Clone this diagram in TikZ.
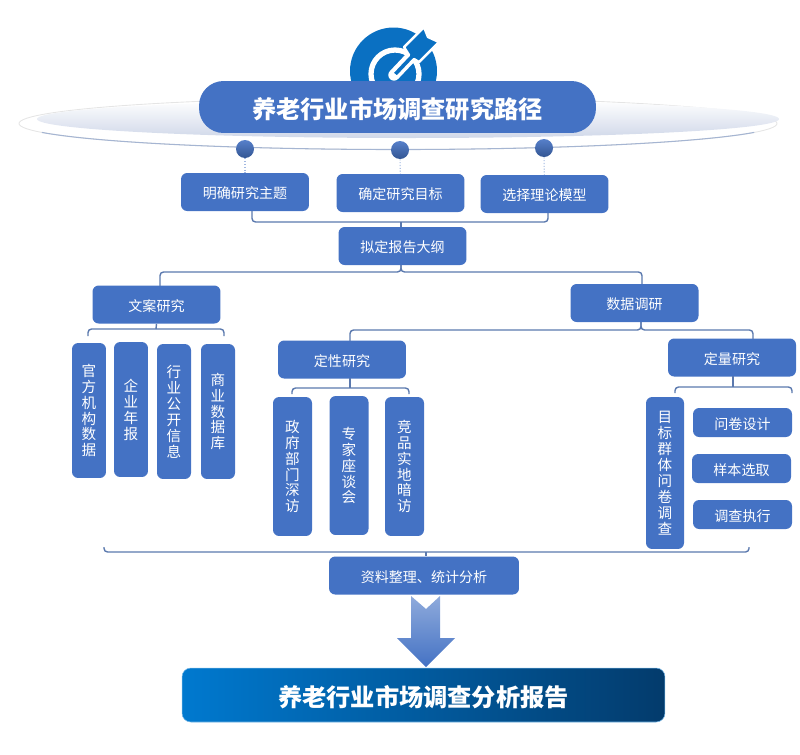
\documentclass[tikz,border=0pt]{standalone}
\usepackage{fontspec}
\setmainfont{Noto Sans CJK SC}
\usetikzlibrary{positioning, arrows.meta, calc}
\definecolor{boxblue}{HTML}{4472C4}
\definecolor{linkblue}{HTML}{5B79AE}
\definecolor{targetblue}{HTML}{0A70C2}
\definecolor{haloblue}{HTML}{D0D8E9}
\definecolor{reportleft}{HTML}{0079CF}
\definecolor{reportright}{HTML}{033B6C}

\begin{document}
\begin{tikzpicture}[
    x=0.02cm, y=-0.02cm,
    hbox/.style={
        rectangle,
        fill=boxblue,
        minimum width=2.56cm,
        minimum height=0.76cm,
        inner sep=0pt,
        font=\fontsize{8}{10}\selectfont,
        text=white,
        text height=8.6pt,
        text depth=1pt,
        rounded corners=3.5pt,
        align=center
    },
    vbox/.style={
        rectangle,
        fill=boxblue,
        inner sep=0pt,
        font=\fontsize{8.3}{9.07}\selectfont,
        text=white,
        rounded corners=3.5pt,
        align=center
    },
    banner/.style={
        rectangle,
        inner sep=0pt,
        text=white,
        font=\fontsize{13.8}{16}\selectfont\bfseries,
        text height=15.6pt,
        text depth=2pt
    },
    link/.style={
        line width=0.8pt,
        color=linkblue,
        rounded corners=2pt
    },
    dotline/.style={
        line width=0.6pt,
        densely dotted,
        color=boxblue!50
    },
    ball/.style={
        circle,
        minimum size=0.36cm,
        inner sep=0pt,
        top color=boxblue!90,
        bottom color=boxblue!75!black
    }
]
\useasboundingbox (0,0) rectangle (800,754);

% Target icon behind the title
\fill[targetblue] (393.5,71) circle [radius=43.5];
\draw[white, line width=3pt] (395,74) circle [radius=24];
\draw[white, line width=6.5pt, line cap=round] (394,75) -- (412,56);
\filldraw[targetblue, draw=white, line width=1.4pt, line join=round]
    (392,73) -- (409,55) -- (404,47) -- (424,27) -- (428,37) -- (439,42) -- (419,62) -- (414,59) -- (397,77) -- cycle;

% Halo
\draw[line width=0.5pt, color=black!10] (398,123.5) ellipse [x radius=379, y radius=26];
\draw[line width=0.6pt, color=linkblue!55] (41.9,132.4) arc [start angle=160, end angle=20, x radius=379, y radius=26];
\shade[top color=white, bottom color=haloblue] (408,119) ellipse [x radius=371, y radius=19];

% Title
\node[banner, fill=boxblue, minimum width=7.94cm, minimum height=1.04cm, rounded corners=14pt] (title) at (397.5,107) {养老行业市场调查研究路径};

% Balls and first row
\node[hbox] (topic) at (245,192) {明确研究主题};
\node[hbox] (goal)  at (400.5,193) {确定研究目标};
\node[hbox] (model) at (544.5,194) {选择理论模型};
\node[ball] (balla) at (245,149) {};
\node[ball] (ballb) at (400,150) {};
\node[ball] (ballc) at (544,148) {};
\draw[dotline] (balla) -- (topic);
\draw[dotline] (ballb) -- (goal);
\draw[dotline] (ballc) -- (model);

% Outline
\node[hbox] (outline) at (402.5,246) {拟定报告大纲};
\coordinate (topicfoot) at (252,211);
\coordinate (modelfoot) at (548,213);
\coordinate (outlinebar) at (401,222);
\draw[link] (topicfoot) |- (outlinebar) -| (modelfoot);
\draw[link] (outlinebar) -- (outline.north -| outlinebar);

% Second level
\node[hbox] (copy) at (156.5,304.5) {文案研究};
\node[hbox] (data) at (634.5,303) {数据调研};
\coordinate (outlinefoot) at (401,265);
\coordinate (outlinefork) at (401,272);
\coordinate (copyhead) at (160,286);
\coordinate (datahead) at (642,284);
\draw[link] (outlinefoot) -- (outlinefork) -| (copyhead);
\draw[link] (outlinefoot) -- (outlinefork) -| (datahead);

% Desk research
\node[vbox, minimum width=0.68cm, minimum height=2.7cm] (gov)   at (89,410.5) {官\\方\\机\\构\\数\\据};
\node[vbox, minimum width=0.68cm, minimum height=2.7cm] (annual) at (131,409.5) {企\\业\\年\\报};
\node[vbox, minimum width=0.68cm, minimum height=2.7cm] (public) at (174,411.5) {行\\业\\公\\开\\信\\息};
\node[vbox, minimum width=0.68cm, minimum height=2.7cm] (biz)    at (218,411.5) {商\\业\\数\\据\\库};
\coordinate (copyleft) at (88,336);
\coordinate (copyright) at (224,336);
\coordinate (copybar) at (156,329);
\draw[link] (copyleft) |- (copybar) -| (copyright);
\draw[link] (copy.south) -- (copybar);

% Data research
\node[hbox] (qual)  at (342,359.5) {定性研究};
\node[hbox] (quant) at (732,357.5) {定量研究};
\coordinate (datafoot) at (641,322);
\coordinate (databar) at (641,330);
\coordinate (qualhead) at (350,341);
\coordinate (quanthead) at (753,339);
\draw[link] (datafoot) -- (databar) -| (qualhead);
\draw[link] (datafoot) -- (databar) -| (quanthead);

% Qualitative
\node[vbox, minimum width=0.78cm, minimum height=2.78cm] (visit)  at (292.5,466.5) {政\\府\\部\\门\\深\\访};
\node[vbox, minimum width=0.78cm, minimum height=2.78cm] (expert) at (349,465.5) {专\\家\\座\\谈\\会};
\node[vbox, minimum width=0.78cm, minimum height=2.78cm] (rival)  at (404.5,466.5) {竞\\品\\实\\地\\暗\\访};
\coordinate (qualleft) at (292,394);
\coordinate (qualright) at (409,394);
\coordinate (qualfoot) at (350,378);
\coordinate (qualbar) at (350,388);
\draw[link] (qualleft) |- (qualbar) -| (qualright);
\draw[link] (qualfoot) -- (qualbar);

% Quantitative
\node[vbox, minimum width=0.76cm, minimum height=3.04cm] (survey) at (665,473) {目\\标\\群\\体\\问\\卷\\调\\查};
\node[hbox, minimum width=1.98cm, minimum height=0.58cm] (design) at (742.5,422.5) {问卷设计};
\node[hbox, minimum width=1.98cm, minimum height=0.58cm] (sample) at (741.5,468.5) {样本选取};
\node[hbox, minimum width=1.98cm, minimum height=0.58cm] (run)    at (742.5,514.5) {调查执行};
\coordinate (quantleft) at (675,393);
\coordinate (quantright) at (792,393);
\coordinate (quantfoot) at (733,376);
\coordinate (quantbar) at (733,387);
\draw[link] (quantleft) |- (quantbar) -| (quantright);
\draw[link] (quantfoot) -- (quantbar);

% Analysis
\node[hbox, minimum width=3.8cm, minimum height=0.76cm] (analysis) at (424,575.5) {资料整理、统计分析};
\coordinate (bracketleft) at (104,547);
\coordinate (bracketright) at (749,547);
\coordinate (bracketbar) at (426,552);
\draw[link] (bracketleft) |- (bracketbar) -| (bracketright);
\draw[link] (bracketbar) -- (analysis.north -| bracketbar);

% Report
\node[banner, left color=reportleft, right color=reportright, draw=reportleft!55!white, line width=0.3pt,
      minimum width=9.66cm, minimum height=1.08cm, rounded corners=5pt] (report) at (423.5,695) {养老行业市场调查分析报告};

% Down arrow
\shade[top color=boxblue!60!white, bottom color=boxblue]
    (411,596) -- (426,609) -- (440,596) -- (440,638) -- (455,638) -- (426,667) -- (397,638) -- (411,638) -- cycle;

\end{tikzpicture}
\end{document}
